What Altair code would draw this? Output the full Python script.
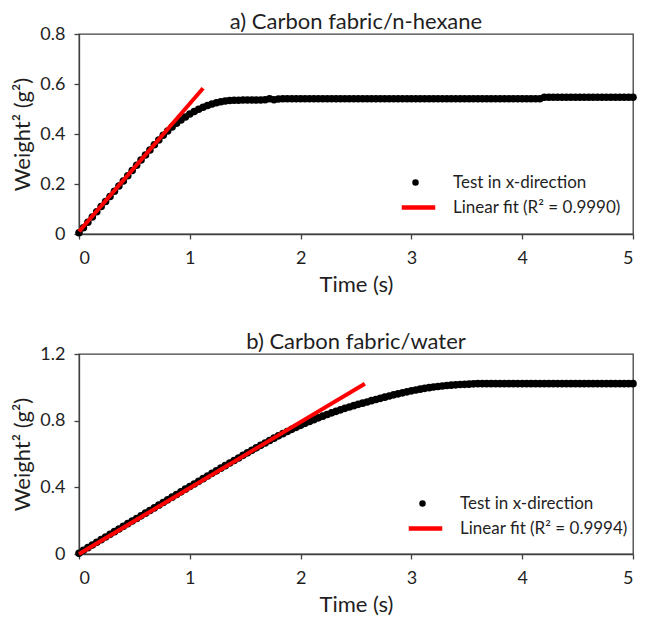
import altair as alt
import pandas as pd

SAMPLE_DT = 0.04  # sampling interval of the weight readings (s)

# a) Carbon fabric / n-hexane : Weight^2 (g^2), one reading every 0.04 s from t = 0
hexane_w2 = [
    0.005, 0.025, 0.047, 0.068, 0.089, 0.110, 0.130, 0.150, 0.171, 0.192,
    0.212, 0.233, 0.254, 0.275, 0.296, 0.316, 0.336, 0.357, 0.376, 0.395,
    0.412, 0.428, 0.443, 0.456, 0.468, 0.480, 0.490, 0.499, 0.507, 0.514,
    0.520, 0.525, 0.529, 0.532, 0.534, 0.535, 0.535, 0.536, 0.536, 0.536,
    0.536, 0.536, 0.537, 0.541, 0.537, 0.540,
    0.541, 0.541, 0.541, 0.541, 0.541, 0.541, 0.541, 0.541, 0.541, 0.541,
    0.541, 0.541, 0.541, 0.541, 0.541, 0.541, 0.541, 0.541, 0.541, 0.541,
    0.541, 0.541, 0.541, 0.541, 0.541, 0.541, 0.541, 0.541, 0.541, 0.541,
    0.541, 0.541, 0.541, 0.541, 0.541, 0.541, 0.541, 0.541, 0.541, 0.541,
    0.541, 0.541, 0.541, 0.541, 0.541, 0.541, 0.541, 0.541, 0.541, 0.541,
    0.541, 0.541, 0.541, 0.541, 0.541, 0.541, 0.541, 0.541, 0.541,
    0.547, 0.547, 0.547, 0.547, 0.547, 0.547, 0.547, 0.547, 0.547, 0.547,
    0.547, 0.547, 0.547, 0.547, 0.547, 0.547, 0.547, 0.547, 0.547, 0.547,
    0.547,
]

# b) Carbon fabric / water : Weight^2 (g^2), one reading every 0.04 s from t = 0
water_w2 = [
    0.004, 0.022, 0.038, 0.054, 0.070, 0.086, 0.102, 0.118, 0.134, 0.150,
    0.166, 0.182, 0.198, 0.213, 0.229, 0.245, 0.261, 0.277, 0.293, 0.309,
    0.325, 0.341, 0.357, 0.373, 0.389, 0.405, 0.420, 0.436, 0.452, 0.468,
    0.484, 0.499, 0.515, 0.530, 0.546, 0.561, 0.576, 0.592, 0.607, 0.622,
    0.637, 0.652, 0.666, 0.681, 0.695, 0.709, 0.722, 0.735, 0.748, 0.760,
    0.772, 0.784, 0.795, 0.806, 0.817, 0.827, 0.837, 0.847, 0.856, 0.865,
    0.874, 0.882, 0.890, 0.898, 0.905, 0.912, 0.920, 0.927, 0.934, 0.941,
    0.948, 0.955, 0.961, 0.967, 0.973, 0.979, 0.984, 0.989, 0.994, 0.998,
    1.002, 1.005, 1.008, 1.011, 1.013, 1.015, 1.017, 1.018, 1.019, 1.021,
    1.022, 1.022, 1.022, 1.022, 1.022, 1.022, 1.022, 1.022, 1.022, 1.022,
    1.022, 1.022, 1.022, 1.022, 1.022, 1.022, 1.022, 1.022, 1.022, 1.022,
    1.022, 1.022, 1.022, 1.022, 1.022, 1.022, 1.022, 1.022, 1.022, 1.022,
    1.022, 1.022, 1.022, 1.022, 1.022, 1.022,
]

# Linear fits (end points of the red lines)
hexane_fit_t = [0.0, 1.12]
hexane_fit_w2 = [0.010, 0.583]
water_fit_t = [0.0, 2.58]
water_fit_w2 = [0.000, 1.022]

test_label = "Test in x-direction"
hexane_fit_label = "Linear fit (R² = 0.9990)"
water_fit_label = "Linear fit (R² = 0.9994)"

hexane_title = "a) Carbon fabric/n-hexane"
water_title = "b) Carbon fabric/water"

time_ticks = [0, 1, 2, 3, 4, 5]
hexane_y_ticks = [0, 0.2, 0.4, 0.6, 0.8]
water_y_ticks = [0, 0.4, 0.8, 1.2]

FONT = "Lato"
TEXT = "#1f1f1f"
AXIS = "#404040"
# legend glyphs: dot for the test data, a short thick bar for the fit line
LEGEND_SHAPES = ["circle", "M-5.2,-0.6L7.6,-0.6L7.6,0.6L-5.2,0.6Z"]


def panel(title, w2, fit_t, fit_w2, fit_label, y_ticks, leg_x, leg_y):
    times = [round(i * SAMPLE_DT, 2) for i in range(len(w2))]
    pts = pd.DataFrame({"t": times, "w": w2, "s": test_label})
    fit = pd.DataFrame({"t": fit_t, "w": fit_w2, "s": fit_label})
    domain = [test_label, fit_label]
    legend = alt.Legend(
        title=None,
        orient="none",
        legendX=leg_x,
        legendY=leg_y,
        labelFont=FONT,
        labelFontSize=17,
        labelColor=TEXT,
        labelLimit=400,
        labelOffset=29,
        rowPadding=7,
        symbolSize=25,
        symbolOpacity=1,
    )
    color = alt.Color("s:N", scale=alt.Scale(domain=domain, range=["#000000", "#ff0000"]),
                      legend=legend)
    shape = alt.Shape("s:N", scale=alt.Scale(domain=domain, range=LEGEND_SHAPES),
                      legend=legend)
    x = alt.X(
        "t:Q",
        scale=alt.Scale(domain=[0, 5], nice=False),
        axis=alt.Axis(values=time_ticks, format="~g", title="Time (s)",
                      labelPadding=10, titlePadding=7),
    )
    y = alt.Y(
        "w:Q",
        scale=alt.Scale(domain=[0, y_ticks[-1]], nice=False),
        axis=alt.Axis(values=y_ticks, format="~g", title="Weight² (g²)",
                      labelPadding=9, titlePadding=5),
    )
    dots = alt.Chart(pts).mark_point(filled=True, size=58, opacity=1).encode(
        x=x, y=y, color=color, shape=shape)
    line = alt.Chart(fit).mark_line(strokeWidth=4).encode(x=x, y=y, color=color)
    return alt.layer(dots, line).properties(
        width=554,
        height=200,
        title=alt.TitleParams(title, anchor="middle", fontSize=22, fontWeight="normal",
                              font=FONT, color=TEXT, offset=-9),
    )


top = panel(hexane_title, hexane_w2, hexane_fit_t, hexane_fit_w2, hexane_fit_label,
            hexane_y_ticks, 328, 140)
bottom = panel(water_title, water_w2, water_fit_t, water_fit_w2, water_fit_label,
               water_y_ticks, 335, 141)

chart = (
    alt.vconcat(top, bottom, spacing=34)
    .resolve_scale(color="independent", shape="independent")
    .resolve_legend(color="independent", shape="independent")
    .properties(padding={"left": 3, "top": 2, "right": 0, "bottom": 0})
    .configure(font=FONT)
    .configure_view(stroke=AXIS, strokeWidth=1.3)
    .configure_axis(
        grid=False,
        domainColor=AXIS,
        domainWidth=1.3,
        tickColor=AXIS,
        tickWidth=1.3,
        tickSize=5,
        labelFont=FONT,
        labelFontSize=18,
        labelColor=TEXT,
        titleFont=FONT,
        titleFontSize=22,
        titleFontWeight="normal",
        titleColor=TEXT,
    )
)

chart.save("out.html", embed_options={"renderer": "svg", "actions": False})
